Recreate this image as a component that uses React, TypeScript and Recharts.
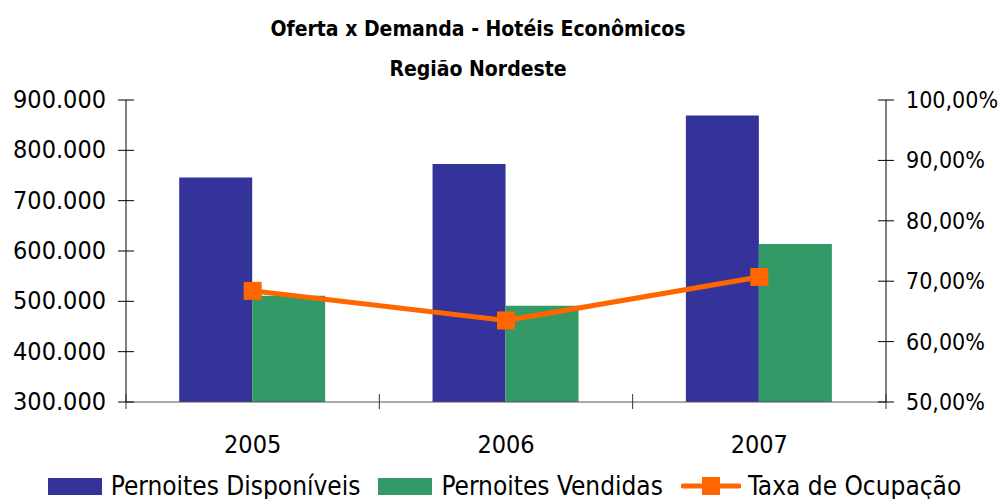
import { ComposedChart, Bar, Line, XAxis, YAxis, Legend } from 'recharts'

const years = ['2005', '2006', '2007']
const disponiveis = [746000, 773000, 869000]
const vendidas = [511000, 491000, 614000]
const taxa = [68.4, 63.5, 70.7]
const leftTicks = [300000, 400000, 500000, 600000, 700000, 800000, 900000]
const rightTicks = [50, 60, 70, 80, 90, 100]

const data = years.map((y, i) => ({
  ano: y,
  disp: disponiveis[i],
  vend: vendidas[i],
  taxa: taxa[i],
}))

const FONT = '"DejaVu Sans Condensed", "DejaVu Sans", sans-serif'
const BLUE = '#333399'
const GREEN = '#339966'
const ORANGE = '#FF6600'
const PLOT_W = 760

const fmtThousands = (v: number) => v.toLocaleString('de-DE')
const fmtPct = (v: number) => v.toFixed(2).replace('.', ',') + '%'

function LeftTick(props: any) {
  const { x, y, payload } = props
  return (
    <g>
      <line x1={x - 8} x2={x + 8} y1={y} y2={y} stroke="#000" />
      <text x={x - 20} y={y + 8} textAnchor="end" fontSize={25} fill="#000">
        {fmtThousands(payload.value)}
      </text>
    </g>
  )
}

function RightTick(props: any) {
  const { x, y, payload } = props
  return (
    <g>
      <line x1={x - 8} x2={x + 8} y1={y} y2={y} stroke="#000" />
      <text x={x + 20} y={y + 8} textAnchor="start" fontSize={23} fill="#000">
        {fmtPct(payload.value)}
      </text>
    </g>
  )
}

function BottomTick(props: any) {
  const { x, y, payload, index } = props
  const band = PLOT_W / years.length
  return (
    <g>
      <line x1={x - band / 2} x2={x - band / 2} y1={y - 8} y2={y + 7} stroke="#333" />
      {index === years.length - 1 && (
        <line x1={x + band / 2} x2={x + band / 2} y1={y - 8} y2={y + 7} stroke="#333" />
      )}
      <text x={x} y={y + 51} textAnchor="middle" fontSize={25} fill="#000">
        {payload.value}
      </text>
    </g>
  )
}

function SquareDot(props: any) {
  const { cx, cy } = props
  return <rect x={cx - 9} y={cy - 9} width={18} height={18} fill={ORANGE} />
}

function LegendBox() {
  const items = [
    { label: 'Pernoites Disponíveis', color: BLUE, kind: 'bar' },
    { label: 'Pernoites Vendidas', color: GREEN, kind: 'bar' },
    { label: 'Taxa de Ocupação', color: ORANGE, kind: 'line' },
  ]
  return (
    <div style={{ display: 'flex', justifyContent: 'center', alignItems: 'center', gap: 18, paddingLeft: 6, fontSize: 26, color: '#000' }}>
      {items.map((it) => (
        <div key={it.label} style={{ display: 'flex', alignItems: 'center' }}>
          {it.kind === 'bar' ? (
            <svg width={54} height={17} style={{ marginRight: 9 }}>
              <rect width={54} height={17} fill={it.color} />
            </svg>
          ) : (
            <svg width={60} height={18} style={{ marginRight: 7 }}>
              <line x1={2} x2={58} y1={9} y2={9} stroke={it.color} strokeWidth={5} strokeLinecap="round" />
              <rect x={21} y={0} width={18} height={18} fill={it.color} />
            </svg>
          )}
          <span>{it.label}</span>
        </div>
      ))}
    </div>
  )
}

export default function App() {
  return (
    <div style={{ position: 'absolute', left: 0, top: 0, width: 1003, height: 499, fontFamily: FONT, background: '#fff' }}>
      <ComposedChart
        width={1003}
        height={499}
        data={data}
        margin={{ top: 100, right: 0, bottom: 37, left: 0 }}
        barCategoryGap="21%"
        barGap={0}
      >
        <text x={478} y={36} textAnchor="middle" fontSize={21} fontWeight="bold" fill="#000">
          Oferta x Demanda - Hotéis Econômicos
        </text>
        <text x={478} y={76} textAnchor="middle" fontSize={21} fontWeight="bold" fill="#000">
          Região Nordeste
        </text>
        <XAxis
          dataKey="ano"
          height={60}
          tickSize={0}
          tickMargin={0}
          tick={<BottomTick />}
          axisLine={{ stroke: '#555' }}
          tickLine={false}
        />
        <YAxis
          yAxisId="left"
          orientation="left"
          width={126}
          domain={[300000, 900000]}
          ticks={leftTicks}
          allowDataOverflow
          tickSize={0}
          tickMargin={0}
          tick={<LeftTick />}
          tickLine={false}
          axisLine={{ stroke: '#000' }}
        />
        <YAxis
          yAxisId="right"
          orientation="right"
          width={117}
          domain={[50, 100]}
          ticks={rightTicks}
          allowDataOverflow
          tickSize={0}
          tickMargin={0}
          tick={<RightTick />}
          tickLine={false}
          axisLine={{ stroke: '#000' }}
        />
        <Bar yAxisId="left" dataKey="disp" name="Pernoites Disponíveis" fill={BLUE} isAnimationActive={false} />
        <Bar yAxisId="left" dataKey="vend" name="Pernoites Vendidas" fill={GREEN} isAnimationActive={false} />
        <Line
          yAxisId="right"
          dataKey="taxa"
          name="Taxa de Ocupação"
          type="linear"
          stroke={ORANGE}
          strokeWidth={5}
          dot={<SquareDot />}
          activeDot={false}
          isAnimationActive={false}
        />
        <Legend
          layout="horizontal"
          verticalAlign="middle"
          align="center"
          wrapperStyle={{ top: 471, left: 0, width: 1003 }}
          content={() => <LegendBox />}
        />
      </ComposedChart>
    </div>
  )
}
